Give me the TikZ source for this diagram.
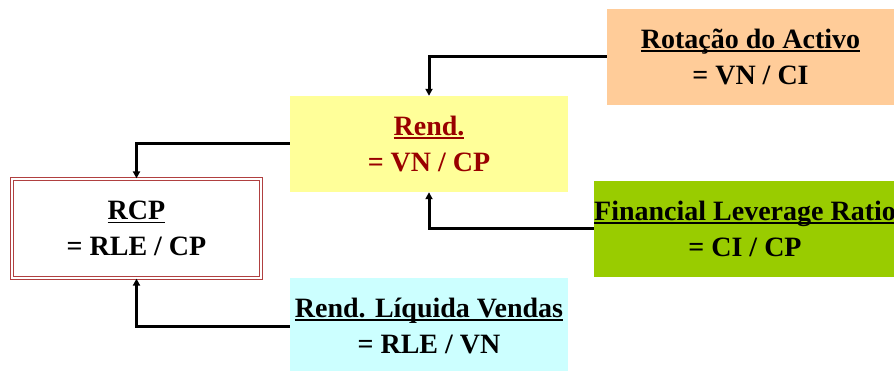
\documentclass[tikz,border=0pt]{standalone}
\usepackage{fontspec}
\setmainfont{Liberation Serif}
\usetikzlibrary{arrows.meta}

\definecolor{rotcol}{RGB}{255,204,153}
\definecolor{rendcol}{RGB}{255,255,153}
\definecolor{flrcol}{RGB}{153,204,0}
\definecolor{lvcol}{RGB}{204,255,255}
\definecolor{rcpred}{RGB}{176,64,64}
\definecolor{rendtxt}{RGB}{153,0,0}

% underline close under the baseline, as in the slide
\newcommand{\ulbar}[1]{\setbox0\hbox{#1}\rlap{\rule[-3.5pt]{\wd0}{1.6pt}}\box0}

\tikzset{
  box/.style={inner sep=0pt, align=center, minimum height=96pt,
    font=\fontsize{28}{36}\selectfont\bfseries},
  link/.style={line width=3pt, -{Triangle[length=7pt,width=7pt]}}
}

\begin{document}
\begin{tikzpicture}[x=1pt, y=-1pt, line join=miter]
  \clip (0,0) rectangle (894,371);
  \fill[white] (0,0) rectangle (894,371);

  % Boxes (pixel coordinates, y downwards)
  \node[box, fill=rotcol, minimum width=287pt] (rot) at (750.5,57)
    {\ulbar{Rotação do Activo}\\= VN / CI};
  \node[box, fill=rendcol, minimum width=278pt, text=rendtxt] (rend) at (429,144)
    {\ulbar{Rend.}\\= VN / CP};
  \node[box, fill=flrcol, minimum width=298pt] (flr) at (745,229)
    {\ulbar{Financial Leverage Ratio}\\= CI / CP};
  \node[box, fill=lvcol, minimum width=278pt] (lv) at (429,326)
    {\ulbar{Rend. Líquida Vendas}\\= RLE / VN};
  \node[box, minimum width=249pt, minimum height=99pt, draw=rcpred,
    line width=1.3pt, double=white, double distance=2pt] (rcp) at (136.5,228.5)
    {\ulbar{RCP}\\= RLE / CP};

  % Connectors
  \draw[link] (rot.west) -| (rend.north);
  \draw[link] (flr.west) -| (rend.south);
  \draw[link] (rend.west) -| (rcp.north);
  \draw[link] (lv.west) -| (rcp.south);
\end{tikzpicture}
\end{document}
